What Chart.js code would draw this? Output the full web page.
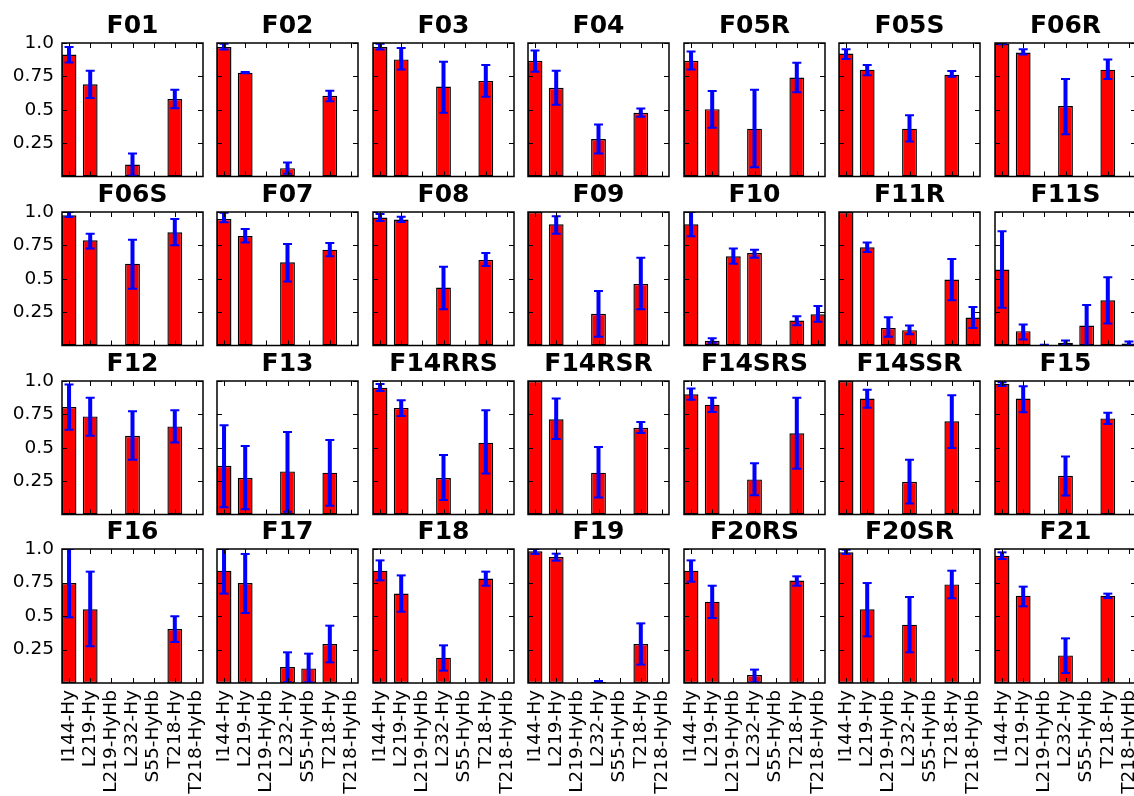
<!DOCTYPE html>
<html>
<head>
<meta charset="utf-8">
<script src="https://cdn.jsdelivr.net/npm/chart.js@4.4.0/dist/chart.umd.min.js"></script>
<style>
  html, body { margin: 0; padding: 0; background: #fff; }
  #wrap { position: relative; width: 1134px; height: 796px; overflow: hidden; }
  #wrap canvas { position: absolute; }
</style>
</head>
<body>
<div id="wrap"></div>
<script>
const n = null;

const panels = ['F01', 'F02', 'F03', 'F04', 'F05R', 'F05S', 'F06R',
                'F06S', 'F07', 'F08', 'F09', 'F10', 'F11R', 'F11S',
                'F12', 'F13', 'F14RRS', 'F14RSR', 'F14SRS', 'F14SSR', 'F15',
                'F16', 'F17', 'F18', 'F19', 'F20RS', 'F20SR', 'F21'];
const categories = ['I144-Hy', 'L219-Hy', 'L219-HyHb', 'L232-Hy', 'S55-HyHb', 'T218-Hy', 'T218-HyHb'];
const yTickValues = [0.25, 0.5, 0.75, 1];
const yTickLabels = ['0.25', '0.5', '0.75', '1.0'];

// bar heights, one row per panel
const means = [
  [0.914, 0.691, n, 0.089, n, 0.580, n],
  [0.970, 0.778, n, 0.062, n, 0.605, n],
  [0.970, 0.877, n, 0.674, n, 0.716, n],
  [0.867, 0.664, n, 0.281, n, 0.477, n],
  [0.867, 0.504, n, 0.358, n, 0.741, n],
  [0.921, 0.800, n, 0.358, n, 0.763, n],
  [0.995, 0.928, n, 0.528, n, 0.800, n],
  [0.975, 0.788, n, 0.613, n, 0.848, n],
  [0.948, 0.820, n, 0.623, n, 0.718, n],
  [0.958, 0.943, n, 0.434, n, 0.641, n],
  [1.000, 0.908, n, 0.237, n, 0.461, n],
  [0.908, 0.035, 0.668, 0.693, n, 0.187, 0.234],
  [1.000, 0.736, 0.132, 0.115, n, 0.494, 0.209],
  [0.569, 0.107, 0.003, 0.020, 0.150, 0.339, 0.015],
  [0.805, 0.735, n, 0.590, n, 0.660, n],
  [0.365, 0.273, n, 0.323, n, 0.313, n],
  [0.950, 0.798, n, 0.273, n, 0.538, n],
  [1.000, 0.713, n, 0.313, n, 0.650, n],
  [0.900, 0.823, n, 0.263, n, 0.608, n],
  [1.000, 0.868, n, 0.245, n, 0.698, n],
  [0.980, 0.868, n, 0.290, n, 0.720, n],
  [0.746, 0.550, n, n, n, 0.403, n],
  [0.838, 0.746, n, 0.119, 0.109, 0.291, n],
  [0.838, 0.667, n, 0.189, n, 0.779, n],
  [0.983, 0.940, n, 0.007, n, 0.291, n],
  [0.838, 0.607, n, 0.060, n, 0.764, n],
  [0.975, 0.550, n, 0.435, n, 0.736, n],
  [0.950, 0.652, n, 0.206, n, 0.652, n]
];

// lower / upper ends of the error bars
const errLow = [
  [0.854, 0.588, n, 0.005, n, 0.511, n],
  [0.951, 0.773, n, 0.020, n, 0.563, n],
  [0.951, 0.802, n, 0.477, n, 0.598, n],
  [0.785, 0.538, n, 0.173, n, 0.447, n],
  [0.802, 0.365, n, 0.069, n, 0.632, n],
  [0.881, 0.758, n, 0.262, n, 0.748, n],
  [0.990, 0.914, n, 0.316, n, 0.731, n],
  [0.963, 0.726, n, 0.426, n, 0.751, n],
  [0.923, 0.771, n, 0.479, n, 0.668, n],
  [0.933, 0.925, n, 0.272, n, 0.596, n],
  [n, 0.838, n, 0.065, n, 0.272, n],
  [0.818, 0.020, 0.613, 0.658, n, 0.152, 0.177],
  [n, 0.701, 0.065, 0.085, n, 0.339, 0.132],
  [0.282, 0.045, 0.000, 0.003, 0.000, 0.164, 0.000],
  [0.635, 0.590, n, 0.410, n, 0.540, n],
  [0.055, 0.040, n, 0.020, n, 0.065, n],
  [0.925, 0.738, n, 0.108, n, 0.308, n],
  [n, 0.565, n, 0.128, n, 0.610, n],
  [0.860, 0.768, n, 0.145, n, 0.343, n],
  [n, 0.800, n, 0.083, n, 0.498, n],
  [0.963, 0.765, n, 0.143, n, 0.678, n],
  [0.490, 0.274, n, n, n, 0.306, n],
  [0.667, 0.522, n, 0.007, 0.005, 0.154, n],
  [0.766, 0.532, n, 0.092, n, 0.726, n],
  [0.963, 0.913, n, 0.000, n, 0.137, n],
  [0.756, 0.485, n, 0.005, n, 0.726, n],
  [0.963, 0.348, n, 0.229, n, 0.632, n],
  [0.925, 0.572, n, 0.075, n, 0.634, n]
];
const errHigh = [
  [0.970, 0.793, n, 0.173, n, 0.649, n],
  [0.995, 0.783, n, 0.104, n, 0.642, n],
  [0.995, 0.963, n, 0.859, n, 0.835, n],
  [0.943, 0.793, n, 0.390, n, 0.509, n],
  [0.936, 0.640, n, 0.649, n, 0.852, n],
  [0.953, 0.835, n, 0.459, n, 0.790, n],
  [1.000, 0.953, n, 0.731, n, 0.877, n],
  [1.000, 0.838, n, 0.793, n, 0.948, n],
  [0.995, 0.873, n, 0.761, n, 0.768, n],
  [0.985, 0.965, n, 0.589, n, 0.693, n],
  [n, 0.968, n, 0.409, n, 0.658, n],
  [1.000, 0.055, 0.726, 0.718, n, 0.219, 0.296],
  [n, 0.771, 0.212, 0.150, n, 0.648, 0.289],
  [0.855, 0.157, 0.006, 0.037, 0.304, 0.511, 0.030],
  [0.973, 0.875, n, 0.773, n, 0.780, n],
  [0.668, 0.513, n, 0.618, n, 0.558, n],
  [0.978, 0.855, n, 0.445, n, 0.780, n],
  [n, 0.868, n, 0.505, n, 0.693, n],
  [0.943, 0.875, n, 0.383, n, 0.875, n],
  [n, 0.935, n, 0.410, n, 0.893, n],
  [0.990, 0.960, n, 0.435, n, 0.763, n],
  [1.000, 0.831, n, n, n, 0.498, n],
  [1.000, 0.963, n, 0.229, 0.219, 0.428, n],
  [0.915, 0.803, n, 0.281, n, 0.831, n],
  [1.000, 0.965, n, 0.015, n, 0.445, n],
  [0.915, 0.726, n, 0.100, n, 0.796, n],
  [0.995, 0.746, n, 0.642, n, 0.838, n],
  [0.975, 0.719, n, 0.333, n, 0.667, n]
];

const colLeft = [62, 217, 373, 528, 684, 839, 995];
const rowTop = [43, 212, 381, 549];
const plotW = 141, plotH = 134, titleH = 32;

Chart.defaults.font.family = 'DejaVu Sans';
Chart.defaults.color = '#000';

// matplotlib-like frame with inward ticks on every side
const frameTicks = {
  id: 'frameTicks',
  afterDatasetsDraw(chart) {
    const { ctx, chartArea: a, scales: { x, y } } = chart;
    ctx.save();
    ctx.strokeStyle = '#000';
    ctx.lineWidth = 1;
    ctx.beginPath();
    categories.forEach((c, i) => {
      const px = Math.round(x.getPixelForValue(i)) + 0.5;
      ctx.moveTo(px, a.bottom); ctx.lineTo(px, a.bottom - 5);
      ctx.moveTo(px, a.top); ctx.lineTo(px, a.top + 5);
    });
    yTickValues.forEach(v => {
      const py = Math.round(y.getPixelForValue(v)) + 0.5;
      ctx.moveTo(a.left, py); ctx.lineTo(a.left + 5, py);
      ctx.moveTo(a.right, py); ctx.lineTo(a.right - 5, py);
    });
    ctx.stroke();
    ctx.lineWidth = 1.5;
    ctx.strokeRect(a.left, a.top, a.right - a.left, a.bottom - a.top);
    ctx.restore();
  }
};

const wrap = document.getElementById('wrap');

panels.forEach((name, k) => {
  const r = Math.floor(k / 7), c = k % 7;
  const firstCol = c === 0, lastRow = r === 3;
  const padL = firstCol ? 62 : 8, padR = 8, padB = lastRow ? 118 : 6;

  const canvas = document.createElement('canvas');
  canvas.width = padL + plotW + padR;
  canvas.height = titleH + plotH + padB;
  canvas.style.left = (colLeft[c] - padL) + 'px';
  canvas.style.top = (rowTop[r] - titleH) + 'px';
  wrap.appendChild(canvas);

  const bars = [], errs = [], caps = [];
  categories.forEach((cat, i) => {
    if (means[k][i] != null) bars.push({ x: i, y: means[k][i] });
    if (errLow[k][i] != null) {
      errs.push({ x: i, y: [errLow[k][i], errHigh[k][i]] });
      caps.push({ x: i, y: errLow[k][i] }, { x: i, y: errHigh[k][i] });
    }
  });

  new Chart(canvas, {
    type: 'bar',
    data: {
      datasets: [
        {
          type: 'line', order: 0, data: caps, showLine: false,
          pointStyle: 'line', pointRadius: 4.5, pointHoverRadius: 4.5,
          pointBorderWidth: 2, pointBorderColor: '#0000ff', pointBackgroundColor: '#0000ff',
          clip: 0
        },
        {
          type: 'bar', order: 1, data: errs, backgroundColor: '#0000ff', borderWidth: 0,
          barPercentage: 0.19, categoryPercentage: 1, grouped: false, clip: 0
        },
        {
          type: 'bar', order: 2, data: bars, backgroundColor: '#ff0000',
          borderColor: '#000', borderWidth: 1.4, borderSkipped: false,
          barPercentage: 0.7, categoryPercentage: 1, grouped: false, clip: 0
        }
      ]
    },
    options: {
      responsive: false,
      animation: false,
      events: [],
      layout: { padding: { left: 0, right: padR, top: 0, bottom: 0 } },
      plugins: {
        legend: { display: false },
        tooltip: { enabled: false },
        title: {
          display: true, text: name, fullSize: false, color: '#000',
          font: { size: 25, weight: 'bold', lineHeight: 1.2 },
          padding: { top: 0, bottom: 2 }
        }
      },
      scales: {
        x: {
          type: 'linear', min: -0.333, max: 6.333, offset: false,
          grid: { display: false, drawTicks: false },
          border: { display: false },
          afterBuildTicks: s => { s.ticks = categories.map((cat, i) => ({ value: i })); },
          afterFit: s => { s.height = padB; s.paddingLeft = 0; s.paddingRight = 0; },
          ticks: {
            display: lastRow,
            autoSkip: false, minRotation: 90, maxRotation: 90, padding: 7,
            font: { size: 18.5 }, color: '#000',
            callback: v => categories[v]
          }
        },
        y: {
          min: 0, max: 1,
          grid: { display: false, drawTicks: false },
          border: { display: false },
          afterBuildTicks: s => { s.ticks = yTickValues.map(v => ({ value: v })); },
          afterFit: s => { s.width = padL; s.paddingTop = 0; s.paddingBottom = 0; },
          ticks: {
            display: firstCol,
            padding: 8, font: { size: 18.5 }, color: '#000',
            callback: v => yTickLabels[yTickValues.indexOf(v)]
          }
        }
      }
    },
    plugins: [frameTicks]
  });
});
</script>
</body>
</html>
